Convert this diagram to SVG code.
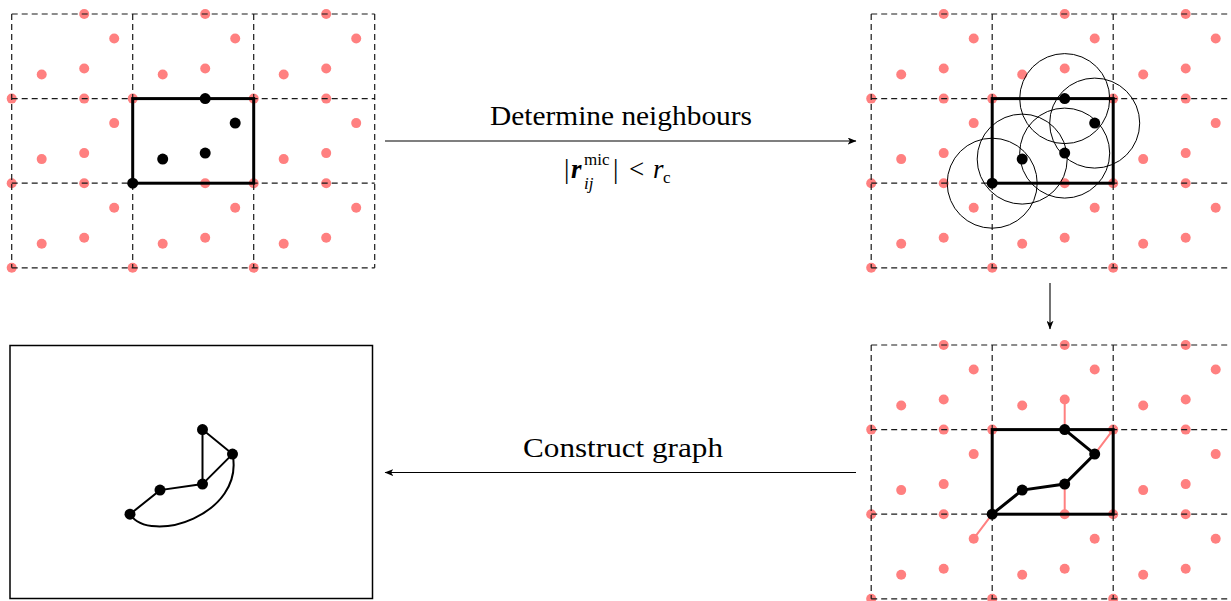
<svg xmlns="http://www.w3.org/2000/svg" xmlns:xlink="http://www.w3.org/1999/xlink" width="1231" height="601" viewBox="0 0 1231 601">
<style>
.red{fill:#ff8080}
.blk{fill:#000}
.grid{stroke:#1a1a1a;stroke-width:1.2;stroke-dasharray:6 4;fill:none}
.box{stroke:#000;stroke-width:3;fill:none}
.rc{stroke:#000;stroke-width:1;fill:none}
.edge{stroke:#000;stroke-width:3;fill:none;stroke-linecap:round}
.redge{stroke:#ff8080;stroke-width:2;fill:none}
.gedge{stroke:#000;stroke-width:2;fill:none}
.conn{stroke:#000;stroke-width:1.1;fill:none}
.lbl{font-family:"Liberation Serif","DejaVu Serif",serif;font-size:27px;fill:#000}
.sm{font-family:"Liberation Serif","DejaVu Serif",serif;font-size:17px;fill:#000}
</style>
<defs>
<g id="cell">
<circle class="red" cx="72.5" cy="0" r="5"/>
<circle class="red" cx="102.5" cy="24.5" r="5"/>
<circle class="red" cx="30" cy="60.5" r="5"/>
<circle class="red" cx="72.5" cy="54.5" r="5"/>
<circle class="red" cx="0" cy="84.6" r="5"/>
</g>
<g id="blackpts">
<circle class="blk" cx="72.5" cy="0" r="5.5"/>
<circle class="blk" cx="102.5" cy="24.5" r="5.5"/>
<circle class="blk" cx="30" cy="60.5" r="5.5"/>
<circle class="blk" cx="72.5" cy="54.5" r="5.5"/>
<circle class="blk" cx="0" cy="84.6" r="5.5"/>
</g>
<g id="gridlines">
<path class="grid" d="M0,0H363M0,84.6H363M0,169.2H363M0,253.8H363M0,0V253.8M121,0V253.8M242,0V253.8M363,0V253.8"/>
</g>
<g id="images">
<use xlink:href="#cell" x="0" y="0"/>
<use xlink:href="#cell" x="121" y="0"/>
<use xlink:href="#cell" x="242" y="0"/>
<use xlink:href="#cell" x="0" y="84.6"/>
<use xlink:href="#cell" x="242" y="84.6"/>
<use xlink:href="#cell" x="0" y="169.2"/>
<use xlink:href="#cell" x="121" y="169.2"/>
<use xlink:href="#cell" x="242" y="169.2"/>
</g>
<marker id="arr" viewBox="0 0 10 8" refX="9.5" refY="4" markerWidth="9" markerHeight="7" markerUnits="userSpaceOnUse" orient="auto">
<path d="M0,0 L10,4 L0,8 L2.5,4 Z" fill="#000"/>
</marker>
</defs>

<g id="panel-cell">
<g transform="translate(11.7,14)">
<use xlink:href="#images"/>
<use xlink:href="#gridlines"/>
<rect class="box" x="121" y="84.6" width="121" height="84.6"/>
<use xlink:href="#blackpts" x="121" y="84.6"/>
</g>
</g>

<g id="panel-neighbours">
<g transform="translate(871.2,14)">
<use xlink:href="#images"/>
<use xlink:href="#gridlines"/>
<rect class="box" x="121" y="84.6" width="121" height="84.6"/>
<use xlink:href="#blackpts" x="121" y="84.6"/>
<g transform="translate(121,84.6)">
<circle class="rc" cx="72.5" cy="0" r="45"/>
<circle class="rc" cx="102.5" cy="24.5" r="45"/>
<circle class="rc" cx="30" cy="60.5" r="45"/>
<circle class="rc" cx="72.5" cy="54.5" r="45"/>
<circle class="rc" cx="0" cy="84.6" r="45"/>
</g>
</g>
</g>

<g id="panel-edges">
<g transform="translate(871.2,345)">
<use xlink:href="#images"/>
<use xlink:href="#gridlines"/>
<g transform="translate(121,84.6)">
<path class="redge" d="M72.5,0V-30.1M72.5,54.5V84.6M102.5,24.5L121,0M0,84.6L-18.5,109.1"/>
</g>
<rect class="box" x="121" y="84.6" width="121" height="84.6"/>
<g transform="translate(121,84.6)">
<path class="edge" d="M0,84.6L30,60.5L72.5,54.5L102.5,24.5L72.5,0"/>
</g>
<use xlink:href="#blackpts" x="121" y="84.6"/>
</g>
</g>

<g id="panel-graph">
<rect x="10" y="345.5" width="362.5" height="253" fill="none" stroke="#000" stroke-width="1.5"/>
<g transform="translate(130,429.6)">
<path class="gedge" d="M0,84.6L30,60.5L72.5,54.5L102.5,24.5L72.5,0L72.5,54.5"/>
<path class="gedge" d="M0,84.6C20,115.4 115,85.4 102.5,24.5"/>
<use xlink:href="#blackpts"/>
</g>
</g>

<g id="connectors">
<line class="conn" x1="385" y1="141" x2="856" y2="141" marker-end="url(#arr)"/>
<line class="conn" x1="1050" y1="283" x2="1050" y2="329" marker-end="url(#arr)"/>
<line class="conn" x1="856" y1="472.5" x2="385" y2="472.5" marker-end="url(#arr)"/>
<text class="lbl" x="490" y="125" textLength="262" lengthAdjust="spacingAndGlyphs">Determine neighbours</text>
<g id="formula">
<text class="lbl" x="564" y="178">|</text>
<text class="lbl" x="571" y="178" font-weight="bold" font-style="italic">r</text>
<text class="sm" x="584" y="165">mic</text>
<text class="sm" x="584" y="189" font-style="italic">ij</text>
<text class="lbl" x="613" y="178">|</text>
<text class="lbl" x="629" y="178">&lt;</text>
<text class="lbl" x="653" y="178" font-style="italic">r</text>
<text class="sm" x="663" y="183">c</text>
</g>
<text class="lbl" x="523" y="457" textLength="200" lengthAdjust="spacingAndGlyphs">Construct graph</text>
</g>
</svg>
